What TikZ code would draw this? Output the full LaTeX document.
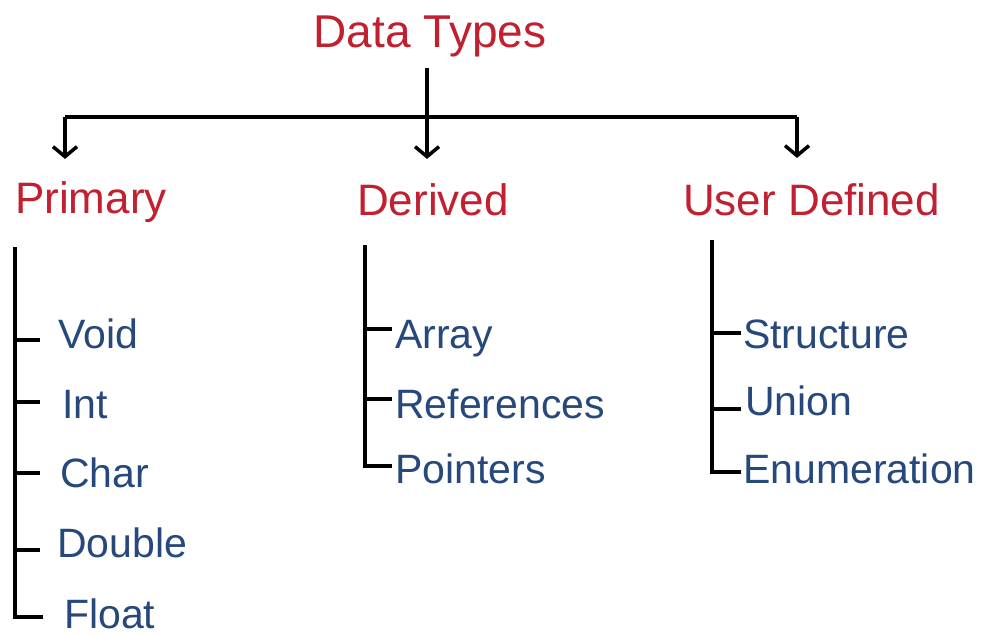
\documentclass[tikz,border=0pt]{standalone}
\usepackage{fontspec}
\setmainfont{Liberation Sans}
\usetikzlibrary{arrows.meta}
\definecolor{hred}{RGB}{192,32,48}
\definecolor{tblue}{RGB}{38,72,122}
\begin{document}
\begin{tikzpicture}[x=1pt,y=-1pt,
  head/.style={font=\fontsize{44}{44}\selectfont, text=hred, inner sep=0pt, anchor=base west},
  item/.style={font=\fontsize{41}{41}\selectfont, text=tblue, inner sep=0pt, anchor=base west, text height=29pt, text depth=0pt},
  line/.style={line width=3.5pt, black},
  arr/.style={line width=3.5pt, black, -{Straight Barb[length=10pt,width=24pt]}}]
\useasboundingbox[fill=white] (0,0) rectangle (985,635);

% headings
\node[head, anchor=base, font=\fontsize{46}{46}\selectfont] (dt) at (430,47) {Data Types};
\node[head] (pri) at (15,213) {Primary};
\node[head] (der) at (357,215) {Derived};
\node[head] (ud) at (683,215) {User Defined};

% top connectors
\coordinate (hl) at (65,117);
\coordinate (hr) at (797,117);
\draw[line] (hl) -- (hr);
\draw[arr, shorten >=24pt] ([shift={(-3,11)}]dt.south) -- ([shift={(-3,0)}]dt.south |- der.north);
\draw[arr, shorten >=22pt] (hl) -- (hl |- pri.north);
\draw[arr, shorten >=25pt] (hr) -- (hr |- ud.north);

% primary items
\node[item] (void) at (58,348) {Void};
\node[item] (int) at (62,418) {Int};
\node[item] (char) at (60,487) {Char};
\node[item] (double) at (57,557) {Double};
\node[item] (float) at (64,628) {Float};
\coordinate (pv) at (15,247);
\draw[line] (pv) |- (43,617);
\draw[line] (pv |- 0,340) -- ++(25,0);
\draw[line] (pv |- 0,402) -- ++(25,0);
\draw[line] (pv |- 0,473) -- ++(25,0);
\draw[line] (pv |- 0,550) -- ++(25,0);

% derived items
\node[item] (array) at (395,348) {Array};
\node[item] (refs) at (395,418) {References};
\node[item] (ptr) at (395,483) {Pointers};
\coordinate (dv) at (365,245);
\draw[line] (dv) |- (392,466);
\draw[line] (dv |- 0,329) -- ++(27,0);
\draw[line] (dv |- 0,399) -- ++(27,0);

% user defined items
\node[item] (struct) at (743,348) {Structure};
\node[item] (union) at (745,415) {Union};
\node[item] (enum) at (743,483) {Enumeration};
\coordinate (uv) at (712,240);
\draw[line] (uv) |- (741,472);
\draw[line] (uv |- 0,333) -- ++(29,0);
\draw[line] (uv |- 0,409) -- ++(29,0);
\end{tikzpicture}
\end{document}
